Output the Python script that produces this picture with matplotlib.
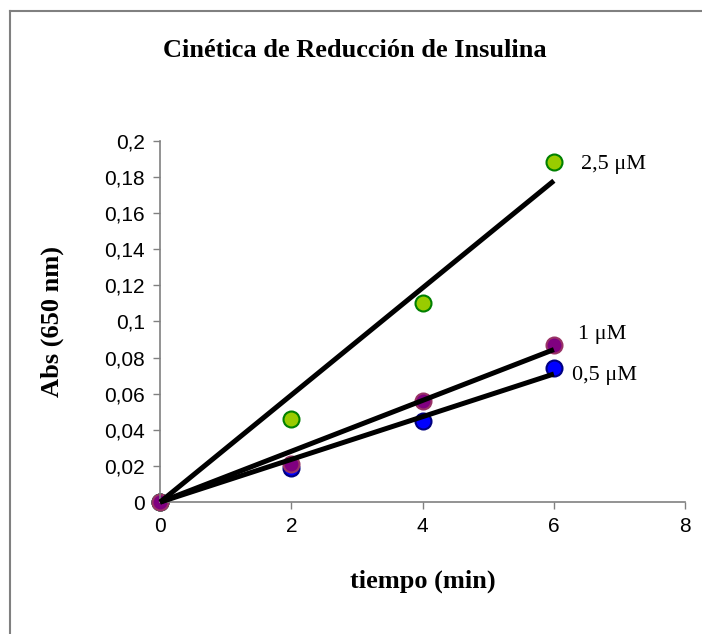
import matplotlib
matplotlib.use('Agg')
import matplotlib.pyplot as plt
from matplotlib.lines import Line2D
from matplotlib.ticker import FuncFormatter
import numpy as np

# data
tiempo = [0, 2, 4, 6]
abs_25 = [0, 0.046, 0.110, 0.188]
abs_1 = [0, 0.021, 0.056, 0.087]
abs_05 = [0, 0.019, 0.045, 0.074]
etiquetas = ['2,5 \u03bcM', '1 \u03bcM', '0,5 \u03bcM']

serif = ['Liberation Serif', 'DejaVu Serif']
sans = ['Liberation Sans', 'DejaVu Sans']

fig = plt.figure(figsize=(7.02, 6.34), dpi=100)
ax = fig.add_axes([0.228, 0.208, 0.748, 0.570])

# outer frame (only top and left visible)
fig.add_artist(Line2D([10/702, 10/702], [0, 1 - 11/634], transform=fig.transFigure,
                      color='#808080', lw=1.5))
fig.add_artist(Line2D([10/702, 1], [1 - 11/634, 1 - 11/634], transform=fig.transFigure,
                      color='#808080', lw=1.5))

series = [
    (abs_05, '#0000FF', '#000080'),
    (abs_25, '#99CC00', '#008000'),
    (abs_1, '#800080', '#993366'),
]
x = np.array(tiempo, dtype=float)
for y, fc, ec in series:
    y = np.array(y)
    # linear trend through the origin
    m = (x * y).sum() / (x * x).sum()
    ax.plot(x, y, 'o', ms=11.5, mfc=fc, mec=ec, mew=1.5, zorder=2, clip_on=False)
    ax.plot([0, 6], [0, 6 * m], color='black', lw=3.6, zorder=3,
            solid_capstyle='butt', clip_on=False)

ax.text(6.42, 0.1868, etiquetas[0], fontsize=16, family=serif, va='center', ha='left')
ax.text(6.37, 0.0928, etiquetas[1], fontsize=16, family=serif, va='center', ha='left')
ax.text(6.28, 0.0701, etiquetas[2], fontsize=16, family=serif, va='center', ha='left')

ax.set_xlim(0, 8)
ax.set_ylim(0, 0.2)
ax.set_xticks([0, 2, 4, 6, 8])
ax.set_yticks(np.arange(0, 0.201, 0.02))

def coma(v, pos):
    s = ('%.2f' % v).rstrip('0').rstrip('.')
    return s.replace('.', ',')

ax.yaxis.set_major_formatter(FuncFormatter(coma))
ax.xaxis.set_major_formatter(FuncFormatter(coma))

for s in ['top', 'right']:
    ax.spines[s].set_visible(False)
for s in ['left', 'bottom']:
    ax.spines[s].set_color('#808080')
    ax.spines[s].set_linewidth(1.2)
ax.tick_params(direction='out', length=5, width=1, color='#808080',
               labelsize=15, pad=6)
for lab in ax.get_xticklabels() + ax.get_yticklabels():
    lab.set_family(sans)

ax.set_xlabel('tiempo (min)', fontsize=19, fontweight='bold', family=serif, labelpad=24)
ax.set_ylabel('Abs (650 nm)', fontsize=19, fontweight='bold', family=serif, labelpad=29)
fig.text(0.506, 0.921, 'Cinética de Reducción de Insulina', fontsize=19,
         fontweight='bold', family=serif, ha='center', va='center')

fig.savefig('out.png', dpi=100)
